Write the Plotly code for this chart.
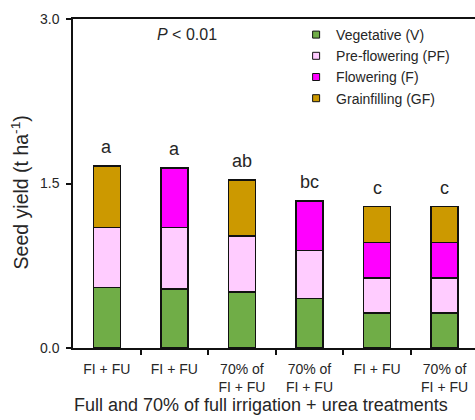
import plotly.graph_objects as go

treatments = ["FI + FU", "FI + FU", "70% of<br>FI + FU", "70% of<br>FI + FU", "FI + FU", "70% of<br>FI + FU"]
vegetative = [0.55, 0.54, 0.51, 0.45, 0.32, 0.32]
preflowering = [0.55, 0.56, 0.51, 0.44, 0.32, 0.32]
flowering = [None, 0.54, None, 0.45, 0.32, 0.32]
grainfilling = [0.56, None, 0.51, None, 0.33, 0.33]
letters = ["a", "a", "ab", "bc", "c", "c"]

series = [
    ("Vegetative (V)", vegetative, "#70AD47"),
    ("Pre-flowering (PF)", preflowering, "#FFCCFF"),
    ("Flowering (F)", flowering, "#FF00FF"),
    ("Grainfilling (GF)", grainfilling, "#CC9900"),
]

x = list(range(len(treatments)))
FONT = "Liberation Sans, Arial, sans-serif"
TXT = "#262626"

fig = go.Figure()
for name, vals, col in series:
    fig.add_trace(go.Bar(
        x=x, y=vals, name=name, width=0.4, legendgroup=name, showlegend=False,
        marker=dict(color=col, line=dict(color="#111111", width=1.5)),
    ))
    # legend entry with a small square key
    fig.add_trace(go.Scatter(
        x=[None], y=[None], mode="markers", name=name, legendgroup=name,
        marker=dict(symbol="square", size=7, color=col, line=dict(color="#111111", width=1)),
    ))

totals = [sum(v for v in (a, b, c, d) if v is not None)
          for a, b, c, d in zip(vegetative, preflowering, flowering, grainfilling)]
for xi, t, lab in zip(x, totals, letters):
    fig.add_annotation(x=xi, y=t, text=lab, showarrow=False, yanchor="bottom",
                       yshift=7, font=dict(size=18, color=TXT, family=FONT))

fig.add_annotation(x=1.19, y=2.855, text="<i>P</i> < 0.01", showarrow=False,
                   font=dict(size=16, color=TXT, family=FONT))

# axis titles
fig.add_annotation(xref="paper", yref="paper", x=-0.131, y=0.474,
                   text="Seed yield (t ha<sup>-1</sup>)", textangle=-90, showarrow=False,
                   xanchor="center", yanchor="middle",
                   font=dict(size=19.5, color=TXT, family=FONT))
fig.add_annotation(xref="paper", yref="paper", x=0.468, y=-0.173,
                   text="Full and 70% of full irrigation + urea treatments", showarrow=False,
                   xanchor="center", yanchor="middle",
                   font=dict(size=18, color=TXT, family=FONT))

fig.update_layout(
    width=475, height=420,
    margin=dict(l=73, r=0, t=19, b=72),
    barmode="stack",
    plot_bgcolor="white", paper_bgcolor="white",
    font=dict(family=FONT, color=TXT, size=14),
    showlegend=True,
    legend=dict(x=0.555, y=1.0, xanchor="left", yanchor="top", traceorder="normal",
                bgcolor="rgba(0,0,0,0)", font=dict(size=14, family=FONT, color=TXT),
                itemwidth=30, tracegroupgap=0),
    xaxis=dict(
        range=[-0.5, 5.45], tickvals=x, ticktext=treatments, ticks="",
        tickfont=dict(size=14, family=FONT, color=TXT), ticklabelstandoff=7,
        showline=True, linecolor="#111111", linewidth=1.5, mirror=True,
        showgrid=False, zeroline=False,
        minor=dict(tickvals=[0.5, 1.5, 2.5, 3.5, 4.5], ticks="outside", ticklen=5,
                   tickcolor="#111111", tickwidth=1.5, showgrid=False),
    ),
    yaxis=dict(
        range=[0, 3], tickvals=[0, 1.5, 3.0], tickformat=".1f",
        ticks="outside", ticklen=5, tickcolor="#111111", tickwidth=1.5,
        tickfont=dict(size=14, family=FONT, color=TXT), ticklabelstandoff=4,
        showline=True, linecolor="#111111", linewidth=1.5,
        showgrid=False, zeroline=False,
    ),
)

fig.write_html("out.html")
